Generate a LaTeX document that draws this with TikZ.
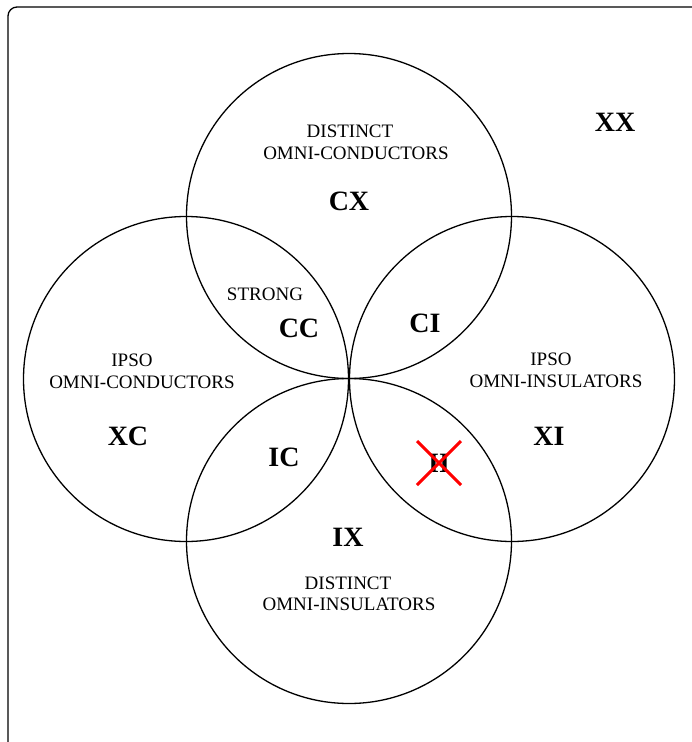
\documentclass[tikz,border=0pt]{standalone}
\usepackage{fontspec}
\setmainfont{Liberation Serif}
\usetikzlibrary{calc}
\begin{document}
\begin{tikzpicture}[x=1pt,y=-1pt,
  ring/.style={circle,draw,line width=1.3pt,minimum size=325pt,inner sep=0pt},
  small/.style={font=\fontsize{19}{22}\selectfont,inner sep=0pt,align=center},
  big/.style={font=\fontsize{28}{32}\selectfont\bfseries,inner sep=0pt},
  cross/.style={draw=red,line width=3pt}]
\useasboundingbox (0,0) rectangle (692,742);
\draw[line width=1.3pt,rounded corners=9pt] (8,760) -- (8,7) -- (710,7);
\node[ring] (top) at (349,216) {};
\node[ring] (left) at (186,379) {};
\node[ring] (right) at (512,379) {};
\node[ring] (bot) at (349,541) {};
\node[small] (d1) at (350,131) {DISTINCT};
\node[small] (o1) at (356,153) {OMNI-CONDUCTORS};
\node[big] (cx) at (349,201) {CX};
\node[big] (xx) at (615,122) {XX};
\node[small] (strong) at (265,294) {STRONG};
\node[big] (cc) at (299,328) {CC};
\node[big] (ci) at (425,323) {CI};
\node[small] (ip1) at (132,360) {IPSO};
\node[small] (oc2) at (142,382) {OMNI-CONDUCTORS};
\node[big] (xc) at (128,436) {XC};
\node[small] (ip2) at (551,359) {IPSO};
\node[small] (oi2) at (556,381) {OMNI-INSULATORS};
\node[big] (xi) at (549,436) {XI};
\node[big] (ic) at (284,457) {IC};
\node[big] (ii) at (439,463) {II};
\node[big] (ix) at (348,537) {IX};
\node[small] (d2) at (348,583) {DISTINCT};
\node[small] (oi3) at (349,604) {OMNI-INSULATORS};
\draw[cross] ($(ii)+(-22,-22)$) -- ($(ii)+(22,22)$);
\draw[cross] ($(ii)+(-22,22)$) -- ($(ii)+(22,-22)$);
\end{tikzpicture}
\end{document}
